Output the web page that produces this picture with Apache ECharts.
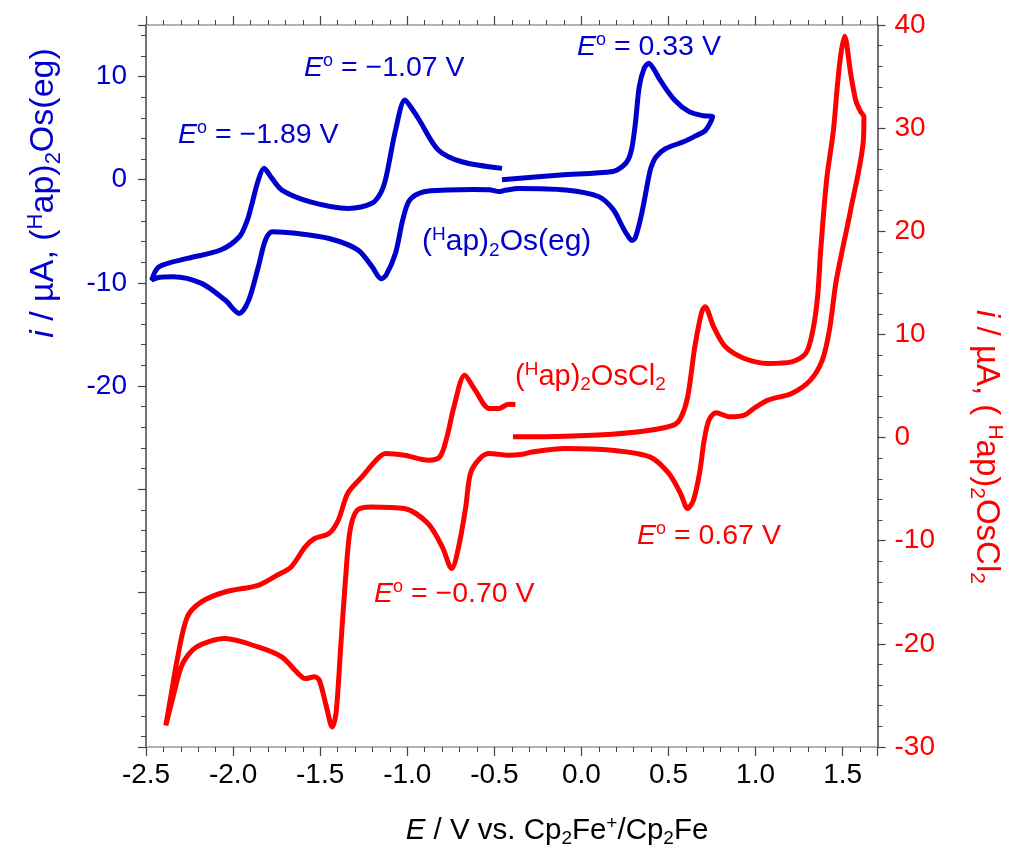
<!DOCTYPE html>
<html><head><meta charset="utf-8">
<script src="https://cdn.jsdelivr.net/npm/echarts@6/dist/echarts.min.js"></script>
<style>html,body{margin:0;padding:0;background:#fff}#c{width:1018px;height:855px}</style>
</head><body><div id="c"></div>
<script>
// ---- tick labels ----
const xTickValues = [-2.5, -2.0, -1.5, -1.0, -0.5, 0.0, 0.5, 1.0, 1.5];
const leftTickLabels = [10, 0, -10, -20];
const rightTickLabels = [-30, -20, -10, 0, 10, 20, 30, 40];

// ---- (Hap)2Os(eg), left axis: potential (V) and current (uA) ----
const blueE = [-0.456, -0.12, 0.18, 0.237, 0.27, 0.291, 0.31, 0.332, 0.36, 0.387, 0.42, 0.454, 0.536, 0.618, 0.70, 0.753,
  0.713, 0.65, 0.590, 0.482, 0.428, 0.40, 0.387, 0.346, 0.31, 0.291, 0.265, 0.237, 0.183, 0.101, -0.089, -0.361, -0.43, -0.47, -0.53, -0.62,
  -0.768, -0.904, -0.986, -1.026, -1.067, -1.12, -1.149, -1.203, -1.284, -1.448, -1.638, -1.774, -1.814, -1.855, -1.910, -1.964,
  -2.046, -2.181, -2.345, -2.42, -2.467, -2.426, -2.263, -2.072, -1.964, -1.92, -1.896, -1.855, -1.822, -1.78, -1.720, -1.556,
  -1.339, -1.203, -1.15, -1.121, -1.067, -1.013, -0.97, -0.931, -0.822, -0.687, -0.456];
const blueI = [0.0, 0.45, 0.8, 1.3, 2.0, 3.2, 5.5, 9.0, 10.8, 11.3, 10.6, 9.6, 7.7, 6.6, 6.2, 6.1,
  4.8, 4.2, 3.7, 3.0, 2.2, 1.2, 0.3, -3.3, -5.6, -5.9, -5.4, -4.6, -2.9, -1.65, -1.0, -0.85, -1.0, -1.15, -0.98, -0.95,
  -1.0, -1.17, -1.97, -3.9, -7.1, -9.2, -9.6, -8.4, -6.8, -5.7, -5.2, -5.05, -5.85, -8.44, -11.67, -12.96,
  -11.67, -10.05, -9.4, -9.45, -9.73, -8.44, -7.63, -6.82, -5.53, -4.0, -2.62, -0.03, 1.1, 0.2, -1.0, -2.14,
  -2.78, -2.29, -1.2, 0.29, 4.82, 7.73, 6.8, 5.79, 2.88, 1.74, 1.1];

// ---- (Hap)2OsCl2, right axis ----
const redE = [-0.393, -0.095, 0.176, 0.393, 0.529, 0.569, 0.610, 0.651, 0.691, 0.710, 0.759, 0.827, 0.936, 1.071, 1.207, 1.288,
  1.329, 1.356, 1.374, 1.408, 1.447, 1.469, 1.489, 1.511, 1.546, 1.575, 1.603, 1.622, 1.619, 1.545, 1.464, 1.424, 1.383, 1.315,
  1.207, 1.071, 0.990, 0.936, 0.854, 0.773, 0.732, 0.705, 0.678, 0.643, 0.610, 0.569, 0.502, 0.393, 0.176, -0.095, -0.284,
  -0.339, -0.420, -0.529, -0.583, -0.637, -0.664, -0.705, -0.745, -0.799, -0.881, -1.016, -1.206, -1.287, -1.328, -1.355,
  -1.382, -1.409, -1.431, -1.464, -1.505, -1.532, -1.586, -1.626, -1.721, -1.857, -2.047, -2.209, -2.290, -2.345, -2.386,
  -2.358, -2.318, -2.263, -2.182, -2.047, -1.857, -1.748, -1.667, -1.586, -1.532, -1.450, -1.396, -1.342, -1.260, -1.179,
  -1.125, -1.016, -0.881, -0.813, -0.772, -0.732, -0.670, -0.610, -0.529, -0.474, -0.420, -0.379];
const redI = [0.07, 0.14, 0.33, 0.71, 1.2, 1.85, 3.94, 8.79, 12.19, 12.68, 10.74, 8.8, 7.67, 7.19, 7.34, 8.16,
  10.42, 13.65, 18.2, 25.0, 29.8, 34.0, 37.1, 38.9, 35.3, 32.7, 31.6, 31.1, 28.85, 22.0, 15.3, 10.42, 7.51, 5.57,
  4.28, 3.63, 2.82, 2.17, 2.01, 2.4, 1.69, -0.25, -3.48, -6.07, -6.88, -5.42, -3.48, -1.87, -1.22, -1.05, -1.39,
  -1.61, -1.71, -1.55, -2.03, -3.48, -6.72, -10.6, -12.7, -10.6, -8.33, -6.88, -6.72, -7.04, -8.98, -13.83,
  -20.3, -26.76, -28.06, -26.1, -23.53, -23.2, -23.37, -22.88, -21.27, -20.3, -19.49, -20.3, -21.91, -25.15, -27.9,
  -25.15, -21.27, -17.39, -15.93, -14.97, -14.32, -13.35, -12.54, -10.6, -9.79, -9.3, -8.01, -5.42, -3.81, -2.19,
  -1.54, -1.71, -2.19, -1.87, 0.07, 2.98, 6.05, 4.6, 2.82, 2.82, 3.24, 3.21];

const BLUE = '#0000cc', RED = '#ff0000';
const FF = "'Liberation Sans', Arial, Helvetica, sans-serif";

const zip = (a, b) => a.map((v, k) => [v, b[k]]);

function richSet(size, color) {
  const subSize = Math.round(size * 0.64);
  return {
    n: {fontSize: size, fontFamily: FF, fill: color, color: color},
    it: {fontSize: size, fontFamily: FF, fontStyle: 'italic', fill: color, color: color},
    sup: {fontSize: subSize, fontFamily: FF, fill: color, color: color, padding: [0, 0, Math.round(size * 0.5), 0]},
    sub: {fontSize: subSize, fontFamily: FF, fill: color, color: color, padding: [Math.round(size * 0.55), 0, 0, 0]}
  };
}
function txt(text, x, y, size, color, align, rot) {
  return {
    type: 'text', x: x, y: y, rotation: rot || 0, silent: true, z: 100,
    style: {
      text: text, rich: richSet(size, color), fill: color, fontSize: size, fontFamily: FF,
      align: align, textAlign: align, verticalAlign: 'middle', textVerticalAlign: 'middle'
    }
  };
}
const eo = v => '{it|E}{sup|o}{n| = ' + v + ' V}';

const tickCol = '#444', frameCol = '#9a9a9a';
function xAx(pos) {
  return {
    type: 'value', min: -2.5, max: 1.7, interval: 0.5, position: pos,
    axisLine: {onZero: false, lineStyle: {color: frameCol, width: 1.5}},
    axisTick: {length: 9, lineStyle: {color: tickCol, width: 1.2}},
    minorTick: {show: true, splitNumber: 5, length: 5, lineStyle: {color: tickCol, width: 1}},
    axisLabel: pos === 'bottom' ? {
      color: '#000', fontSize: 28, fontFamily: FF, margin: 14, showMaxLabel: false,
      formatter: v => xTickValues.some(t => Math.abs(t - v) < 1e-6) ? v.toFixed(1) : ''
    } : {show: false},
    splitLine: {show: false}, minorSplitLine: {show: false}
  };
}

const chart = echarts.init(document.getElementById('c'), null, {renderer: 'canvas'});
chart.setOption({
  animation: false,
  backgroundColor: '#fff',
  grid: {left: 146, right: 140.5, top: 25, bottom: 108, containLabel: false},
  xAxis: [xAx('bottom'), xAx('top')],
  yAxis: [
    {
      type: 'value', min: -55, max: 15, splitNumber: 7, position: 'left',
      axisLine: {onZero: false, lineStyle: {color: tickCol, width: 1.5}},
      axisTick: {length: 8, lineStyle: {color: tickCol, width: 1.2}},
      minorTick: {show: true, splitNumber: 5, length: 5, lineStyle: {color: tickCol, width: 1}},
      axisLabel: {color: BLUE, fontSize: 28, fontFamily: FF, margin: 19,
        formatter: v => leftTickLabels.includes(v) ? String(v) : ''},
      splitLine: {show: false}
    },
    {
      type: 'value', min: -30, max: 40, interval: 10, position: 'right',
      axisLine: {onZero: false, lineStyle: {color: tickCol, width: 1.5}},
      axisTick: {length: 8, lineStyle: {color: tickCol, width: 1.2}},
      minorTick: {show: true, splitNumber: 5, length: 5, lineStyle: {color: tickCol, width: 1}},
      axisLabel: {color: RED, fontSize: 28, fontFamily: FF, margin: 17,
        formatter: v => rightTickLabels.includes(v) ? String(v) : ''},
      splitLine: {show: false}
    }
  ],
  series: [
    {
      name: '(Hap)2Os(eg)', type: 'line', xAxisIndex: 0, yAxisIndex: 0, data: zip(blueE, blueI),
      symbol: 'none', showSymbol: false, smooth: 0.3, lineStyle: {color: BLUE, width: 5}, z: 3
    },
    {
      name: '(Hap)2OsCl2', type: 'line', xAxisIndex: 0, yAxisIndex: 1, data: zip(redE, redI),
      symbol: 'none', showSymbol: false, smooth: 0.3, lineStyle: {color: RED, width: 5}, z: 3
    }
  ],
  graphic: [
    txt(eo('\u22121.89'), 178, 135, 28.5, BLUE, 'left'),
    txt(eo('\u22121.07'), 304, 68, 28.5, BLUE, 'left'),
    txt(eo('0.33'), 577, 47, 28.5, BLUE, 'left'),
    txt('{n|(}{sup|H}{n|ap)}{sub|2}{n|Os(eg)}', 422, 242, 30, BLUE, 'left'),
    txt('{n|(}{sup|H}{n|ap)}{sub|2}{n|OsCl}{sub|2}', 515, 377, 29, RED, 'left'),
    txt(eo('0.67'), 637, 536, 28.5, RED, 'left'),
    txt(eo('\u22120.70'), 374, 594, 28.5, RED, 'left'),
    txt('{it|E}{n| / V vs. Cp}{sub|2}{n|Fe}{sup|+}{n|/Cp}{sub|2}{n|Fe}', 557, 831, 29.5, '#000', 'center'),
    txt('{it|i}{n| / \u00b5A, (}{sup|H}{n|ap)}{sub|2}{n|Os(eg)}', 44, 193, 34, BLUE, 'center', Math.PI / 2),
    txt('{it|i}{n| / \u00b5A, ( }{sup|H}{n|ap)}{sub|2}{n|OsCl}{sub|2}', 986, 447, 33, RED, 'center', -Math.PI / 2)
  ]
});
</script></body></html>
